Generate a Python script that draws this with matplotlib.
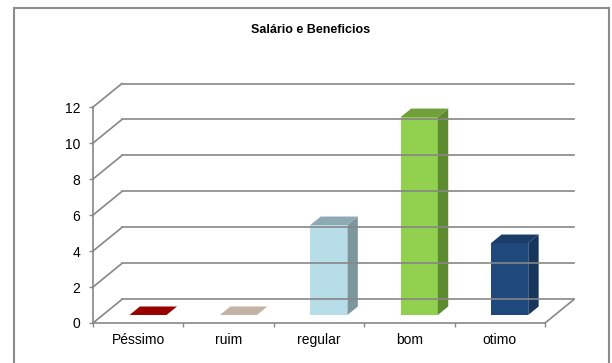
import matplotlib
matplotlib.use("Agg")
import matplotlib.pyplot as plt
from matplotlib.lines import Line2D

plt.rcParams['font.family'] = ['Liberation Sans', 'DejaVu Sans']

categories = ['Péssimo', 'ruim', 'regular', 'bom', 'otimo']
values = [0, 0, 5, 11, 4]
front_colors = ['#990000', '#C4B3A5', '#B7DEE8', '#92D050', '#1F497D']
top_colors = ['#990000', '#C4B3A5', '#8DAAB2', '#71A03A', '#1A3C68']
side_colors = ['#6E0000', '#9A8C80', '#7C969C', '#5E8A30', '#17365D']
yticks = [0, 2, 4, 6, 8, 10, 12]

# fake 3d: wall depth offset in data units
DX, DY = 0.32, 1.31
bar_w = 0.41
d0, d1 = 0.34, 0.70   # bar front / back depth fraction

fig = plt.figure(figsize=(6.12, 3.63), dpi=100)
ax = fig.add_axes([93 / 612, 40 / 363, 481 / 612, 239.5 / 363])
ax.set_xlim(-0.5, 4.5 + DX)
ax.set_ylim(0, 12 + DY)
ax.patch.set_alpha(0)

grid_c = '#878787'
n = len(categories)
# side wall + back wall gridlines
for v in yticks:
    ax.plot([-0.5, -0.5 + DX], [v, v + DY], color=grid_c, lw=1.2, clip_on=False)
    ax.plot([-0.5 + DX, n - 0.5 + DX], [v + DY, v + DY], color=grid_c, lw=1.2, clip_on=False)
# floor right edge
ax.plot([n - 0.5, n - 0.5 + DX], [0, DY], color=grid_c, lw=1.2, clip_on=False)

for i, v in enumerate(values):
    ox, oy = d0 * DX, d0 * DY
    bx, by = (d1 - d0) * DX, (d1 - d0) * DY
    x0 = i - bar_w / 2 + ox
    x1 = i + bar_w / 2 + ox
    y0 = oy
    y1 = v + oy
    if v > 0:
        ax.fill([x0, x1, x1, x0], [y0, y0, y1, y1], color=front_colors[i], lw=0, clip_on=False)
        ax.fill([x1, x1 + bx, x1 + bx, x1], [y0, y0 + by, y1 + by, y1],
                color=side_colors[i], lw=0, clip_on=False)
        ax.fill([x0, x1, x1 + bx, x0 + bx], [y1, y1, y1 + by, y1 + by],
                color=top_colors[i], lw=0, clip_on=False)
    else:
        ax.fill([x0, x1, x1 + bx, x0 + bx], [y1, y1, y1 + by, y1 + by],
                color=front_colors[i], lw=0, clip_on=False)

for s in ['top', 'right']:
    ax.spines[s].set_visible(False)
ax.spines['left'].set_bounds(0, 12)
ax.spines['bottom'].set_bounds(-0.5, n - 0.5)
for s in ['left', 'bottom']:
    ax.spines[s].set_color(grid_c)
    ax.spines[s].set_linewidth(1.2)

ax.set_yticks(yticks)
ax.tick_params(axis='y', length=3, width=1, color=grid_c, pad=6, labelsize=10, labelcolor='black')
ax.set_xticks([i - 0.5 for i in range(n + 1)])
ax.set_xticklabels([])
ax.tick_params(axis='x', which='major', length=3, width=1, color=grid_c)
ax.set_xticks(range(n), minor=True)
ax.set_xticklabels(categories, minor=True)
ax.tick_params(axis='x', which='minor', length=0, pad=7, labelsize=10, labelcolor='black')

fig.text(311 / 612, 1 - 30 / 363, 'Salário e Beneficios', ha='center', va='center',
         fontsize=9, fontweight='bold')

# chart area border
fc = '#8C8C8C'
L, R, T = 13.5 / 612, 608.5 / 612, 1 - 7.5 / 363
fig.add_artist(Line2D([L, R], [T, T], color=fc, lw=1.5, transform=fig.transFigure))
fig.add_artist(Line2D([L, L], [-0.05, T], color=fc, lw=1.5, transform=fig.transFigure))
fig.add_artist(Line2D([R, R], [-0.05, T], color=fc, lw=1.5, transform=fig.transFigure))

fig.savefig('out.png', dpi=100)
